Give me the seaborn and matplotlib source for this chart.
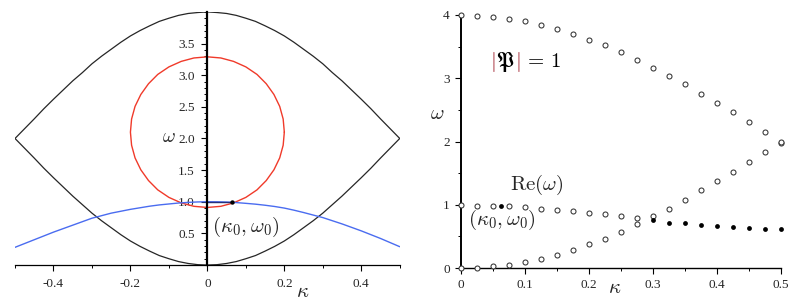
import numpy as np
import seaborn as sns
import matplotlib.pyplot as plt
import matplotlib.patheffects as pe
from matplotlib.ticker import MultipleLocator

# ---- left panel: curves ----
kappa_l = [-0.5, -0.475, -0.45, -0.425, -0.4, -0.375, -0.35, -0.325, -0.3, -0.275,
           -0.25, -0.225, -0.2, -0.175, -0.15, -0.125, -0.1, -0.075, -0.05, -0.025, 0.0,
           0.025, 0.05, 0.075, 0.1, 0.125, 0.15, 0.175, 0.2, 0.225, 0.25,
           0.275, 0.3, 0.325, 0.35, 0.375, 0.4, 0.425, 0.45, 0.475, 0.5]
upper_l = [2.0, 2.155, 2.31, 2.47, 2.62, 2.765, 2.91, 3.04, 3.18, 3.30,
           3.41, 3.52, 3.62, 3.705, 3.78, 3.85, 3.90, 3.945, 3.975, 3.99, 4.0,
           3.99, 3.975, 3.945, 3.90, 3.85, 3.78, 3.705, 3.62, 3.52, 3.41,
           3.30, 3.18, 3.04, 2.91, 2.765, 2.62, 2.47, 2.31, 2.155, 2.0]
lower_l = [2.0, 1.845, 1.69, 1.53, 1.38, 1.235, 1.09, 0.955, 0.82, 0.70,
           0.59, 0.48, 0.38, 0.295, 0.22, 0.15, 0.10, 0.055, 0.025, 0.006, 0.0,
           0.006, 0.025, 0.055, 0.10, 0.15, 0.22, 0.295, 0.38, 0.48, 0.59,
           0.70, 0.82, 0.955, 1.09, 1.235, 1.38, 1.53, 1.69, 1.845, 2.0]
blue_l = [0.28, 0.34, 0.40, 0.46, 0.52, 0.575, 0.63, 0.685, 0.74, 0.78,
          0.82, 0.85, 0.88, 0.905, 0.93, 0.95, 0.965, 0.98, 0.99, 0.997, 1.0,
          0.999, 0.995, 0.987, 0.975, 0.962, 0.945, 0.925, 0.90, 0.867, 0.83,
          0.79, 0.75, 0.70, 0.65, 0.595, 0.54, 0.48, 0.42, 0.355, 0.29]

# red |P| = 1 contour
circle_k = [0.2, 0.197, 0.188, 0.173, 0.153, 0.129, 0.1, 0.068, 0.035, 0.0,
            -0.035, -0.068, -0.1, -0.129, -0.153, -0.173, -0.188, -0.197, -0.2,
            -0.197, -0.188, -0.173, -0.153, -0.129, -0.1, -0.068, -0.035, 0.0,
            0.035, 0.068, 0.1, 0.129, 0.153, 0.173, 0.188, 0.197, 0.2]
circle_w = [2.1, 2.307, 2.507, 2.695, 2.865, 3.012, 3.131, 3.218, 3.272, 3.29,
            3.272, 3.218, 3.131, 3.012, 2.865, 2.695, 2.507, 2.307, 2.1,
            1.893, 1.693, 1.505, 1.335, 1.188, 1.069, 0.982, 0.928, 0.91,
            0.928, 0.982, 1.069, 1.188, 1.335, 1.505, 1.693, 1.893, 2.1]

kappa0_l, omega0_l = 0.065, 1.0

# ---- right panel: sampled points ----
kappa_r = [0.0, 0.025, 0.05, 0.075, 0.1, 0.125, 0.15, 0.175, 0.2, 0.225, 0.25,
           0.275, 0.3, 0.325, 0.35, 0.375, 0.4, 0.425, 0.45, 0.475, 0.5]
upper_r = [4.0, 3.99, 3.96, 3.93, 3.90, 3.84, 3.78, 3.70, 3.61, 3.52, 3.41,
           3.29, 3.16, 3.04, 2.91, 2.75, 2.61, 2.46, 2.31, 2.15, 1.98]
lower_r = [0.0, 0.0, 0.03, 0.05, 0.09, 0.15, 0.21, 0.28, 0.38, 0.465, 0.57,
           0.70, 0.82, 0.94, 1.07, 1.23, 1.37, 1.52, 1.68, 1.83, 2.0]
mid_open_k = [0.0, 0.025, 0.05, 0.075, 0.1, 0.125, 0.15, 0.175, 0.2, 0.225, 0.25, 0.275]
mid_open_w = [1.0, 0.98, 0.98, 0.98, 0.96, 0.93, 0.92, 0.90, 0.876, 0.85, 0.82, 0.786]
mid_fill_k = [0.3, 0.325, 0.35, 0.375, 0.4, 0.425, 0.45, 0.475, 0.5]
mid_fill_w = [0.755, 0.72, 0.71, 0.68, 0.665, 0.65, 0.633, 0.61, 0.61]
kappa0_r, omega0_r = 0.063, 0.98

xt_l = [-0.4, -0.2, 0.0, 0.2, 0.4]
xt_l_lab = ['-0.4', '-0.2', '0', '0.2', '0.4']
yt_l = [0.5, 1.0, 1.5, 2.0, 2.5, 3.0, 3.5]
yt_l_lab = ['0.5', '1.0', '1.5', '2.0', '2.5', '3.0', '3.5']
xt_r = [0.0, 0.1, 0.2, 0.3, 0.4, 0.5]
xt_r_lab = ['0', '0.1', '0.2', '0.3', '0.4', '0.5']
yt_r = [0, 1, 2, 3, 4]
yt_r_lab = ['0', '1', '2', '3', '4']

sns.set_theme(style='ticks')
plt.rcParams['font.family'] = ['Liberation Serif', 'DejaVu Serif']
plt.rcParams['mathtext.fontset'] = 'cm'
plt.rcParams['axes.unicode_minus'] = False

fig = plt.figure(figsize=(7.9, 3.05), dpi=100)
ax1 = fig.add_axes([0.019, 0.131, 0.487, 0.830])
ax2 = fig.add_axes([0.5835, 0.121, 0.405, 0.830])

# left
sns.lineplot(x=kappa_l, y=upper_l, ax=ax1, color='#262626', lw=0.9, sort=False, estimator=None)
sns.lineplot(x=kappa_l, y=lower_l, ax=ax1, color='#262626', lw=0.9, sort=False, estimator=None)
sns.lineplot(x=circle_k, y=circle_w, ax=ax1, color='#f03a2a', lw=1.0, sort=False, estimator=None)
sns.lineplot(x=kappa_l, y=blue_l, ax=ax1, color='#4a6cf0', lw=1.0, sort=False, estimator=None)
ax1.plot([0, kappa0_l], [omega0_l, omega0_l], color='#26307a', lw=1.0)
sns.scatterplot(x=[kappa0_l], y=[omega0_l], ax=ax1, color='black', s=10, linewidth=0, zorder=5)

ax1.set_xlim(-0.5, 0.5)
ax1.set_ylim(0, 4)
sns.despine(ax=ax1)
ax1.spines['left'].set_position(('data', 0))
ax1.spines['left'].set_linewidth(1.6)
ax1.spines['bottom'].set_linewidth(0.9)
for s in ['left', 'bottom']:
    ax1.spines[s].set_color('black')
ax1.set_xticks(xt_l)
ax1.set_xticklabels(xt_l_lab)
ax1.set_yticks(yt_l)
ax1.set_yticklabels(yt_l_lab)
ax1.xaxis.set_minor_locator(MultipleLocator(0.1))
ax1.yaxis.set_minor_locator(MultipleLocator(0.1))
ax1.tick_params(which='major', length=4, width=0.8, labelsize=9.5, pad=5, color='black')
ax1.tick_params(which='minor', length=2.5, width=0.7, color='black')
ax1.text(-0.1, 2.01, r'$\omega$', fontsize=14, ha='center', va='center')
ax1.text(0.247, -0.44, r'$\kappa$', fontsize=15, ha='center', va='center', clip_on=False)
ax1.text(0.013, 0.60, r'$(\kappa_0,\omega_0)$', fontsize=15, ha='left', va='center')
ax1.set_xlabel('')
ax1.set_ylabel('')

# right
open_kw = dict(facecolor='white', edgecolor='#333333', s=13, linewidth=0.75, clip_on=False, zorder=4)
fill_kw = dict(color='black', s=12, linewidth=0, clip_on=False, zorder=4)
sns.scatterplot(x=kappa_r, y=upper_r, ax=ax2, **open_kw)
sns.scatterplot(x=kappa_r, y=lower_r, ax=ax2, **open_kw)
sns.scatterplot(x=mid_open_k, y=mid_open_w, ax=ax2, **open_kw)
sns.scatterplot(x=mid_fill_k, y=mid_fill_w, ax=ax2, **fill_kw)
sns.scatterplot(x=[kappa0_r], y=[omega0_r], ax=ax2, **fill_kw)

ax2.set_xlim(0, 0.5)
ax2.set_ylim(0, 4)
sns.despine(ax=ax2)
ax2.spines['left'].set_linewidth(1.4)
ax2.spines['bottom'].set_linewidth(1.0)
for s in ['left', 'bottom']:
    ax2.spines[s].set_color('black')
ax2.set_xticks(xt_r)
ax2.set_xticklabels(xt_r_lab)
ax2.set_yticks(yt_r)
ax2.set_yticklabels(yt_r_lab)
ax2.xaxis.set_minor_locator(MultipleLocator(0.05))
ax2.yaxis.set_minor_locator(MultipleLocator(0.5))
ax2.tick_params(which='major', length=4, width=0.8, labelsize=9.5, pad=4, color='black')
ax2.tick_params(which='minor', length=2.5, width=0.7, color='black')
ax2.set_xlabel('')
ax2.set_ylabel('')
ax2.text(-0.0375, 2.42, r'$\omega$', fontsize=15, ha='center', va='center', clip_on=False)
ax2.text(0.24, -0.32, r'$\kappa$', fontsize=15, ha='center', va='center', clip_on=False)
ax2.text(0.011, 0.76, r'$(\kappa_0,\omega_0)$', fontsize=15, ha='left', va='center')
ax2.text(0.077, 1.31, r'$\mathrm{Re}(\omega)$', fontsize=15, ha='left', va='center')

# |P| = 1 with dark red bars, built piece by piece
bar_red = '#a0202e'
tx, ty = 0.045, 3.18
kw = dict(fontsize=15, ha='left', va='baseline')
fig.canvas.draw()
renderer = fig.canvas.get_renderer()
pieces = [(r'$|$', bar_red), (r'$\mathfrak{P}$', 'black'), (r'$|$', bar_red), (r'$\,=\,1$', 'black')]
offset = 0.0
for s, c in pieces:
    t = ax2.annotate(s, xy=(tx, ty), xycoords='data', xytext=(offset, 0),
                     textcoords='offset points', color=c, **kw)
    offset += t.get_window_extent(renderer).width * 72 / fig.dpi + 0.6

fig.savefig('out.png', dpi=100)
